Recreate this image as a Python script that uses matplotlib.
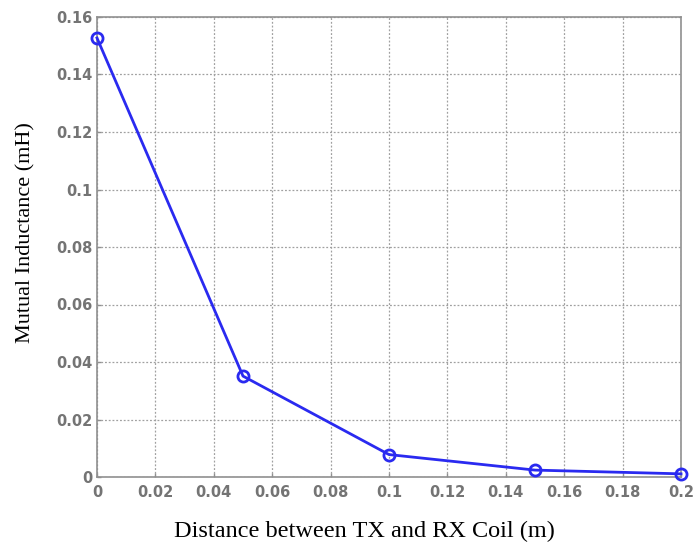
import matplotlib
matplotlib.use("Agg")
import matplotlib.pyplot as plt

distance = [0.0, 0.05, 0.10, 0.15, 0.20]
inductance = [0.1527, 0.0351, 0.0078, 0.0024, 0.0011]
xticks = [0, 0.02, 0.04, 0.06, 0.08, 0.1, 0.12, 0.14, 0.16, 0.18, 0.2]
xticklabels = ["0", "0.02", "0.04", "0.06", "0.08", "0.1", "0.12", "0.14", "0.16", "0.18", "0.2"]
yticks = [0, 0.02, 0.04, 0.06, 0.08, 0.1, 0.12, 0.14, 0.16]
yticklabels = ["0", "0.02", "0.04", "0.06", "0.08", "0.1", "0.12", "0.14", "0.16"]

fig = plt.figure(figsize=(6.94, 5.49), dpi=100)
ax = fig.add_axes([97/694, 1-477/549, (681-97)/694, (477-17)/549])

ax.plot(distance, inductance, color="#2a2af0", lw=2, marker="o",
        markersize=8, markerfacecolor="none", markeredgewidth=2,
        markeredgecolor="#2a2af0", clip_on=False, zorder=3)

ax.set_xlim(0, 0.2)
ax.set_ylim(0, 0.16)
ax.set_xticks(xticks)
ax.set_xticklabels(xticklabels)
ax.set_yticks(yticks)
ax.set_yticklabels(yticklabels)
ax.grid(True, color="#a0a0a0", linestyle=(0, (1.5, 1.5)), linewidth=0.9)
for s in ax.spines.values():
    s.set_color("#909090")
    s.set_linewidth(1.2)
ax.tick_params(colors="#909090", labelcolor="#747474", labelsize=10.5, length=3,
               direction="in", width=1)
for lab in ax.get_xticklabels() + ax.get_yticklabels():
    lab.set_fontweight("bold")
ax.tick_params(axis="x", pad=6)

ax.set_xlabel("Distance between TX and RX Coil (m)", family="Liberation Serif",
              fontsize=17.5, color="black")
ax.xaxis.set_label_coords(364/694, (549-531)/549, transform=fig.transFigure)
ax.xaxis.label.set_va("center")
ax.set_ylabel("Mutual Inductance (mH)", family="Liberation Serif",
              fontsize=16, color="black")
ax.yaxis.set_label_coords(26/694, (549-233)/549, transform=fig.transFigure)
ax.yaxis.label.set_va("center")

fig.savefig("out.png", dpi=100)
